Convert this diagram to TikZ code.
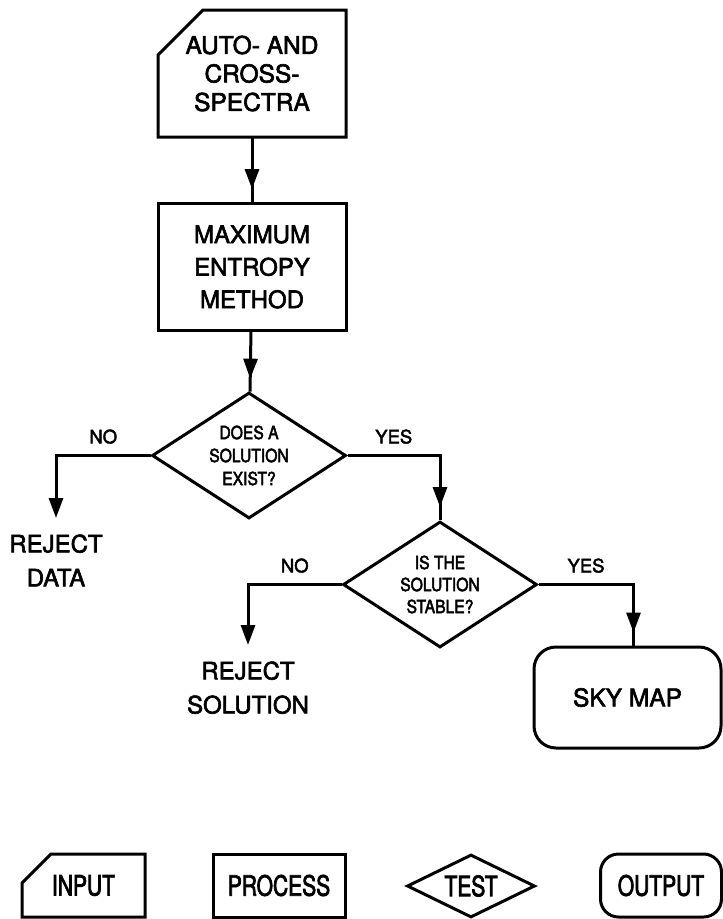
\documentclass[tikz,border=0pt]{standalone}
\usepackage{fontspec}
\setmainfont[FakeBold=2.5]{TeX Gyre Heros}
\newfontfamily\narrowfont[FakeStretch=0.87,FakeBold=2.5]{TeX Gyre Heros}
\newfontfamily\legendfont[FakeStretch=0.75,FakeBold=2.5]{TeX Gyre Heros}
\usepackage{tikz}
\usetikzlibrary{shapes,arrows,positioning,calc,decorations.markings,arrows.meta}

\newcommand{\cutframe}[2]{\draw (#1.north east) -- (#1.south east) -- (#1.south west) -- ([yshift=-#2]#1.north west) -- ([xshift=#2]#1.north west) -- cycle;}

\begin{document}
\begin{tikzpicture}[x=1pt, y=-1pt, line width=3pt,
        block/.style={draw, rectangle, minimum height=127pt, minimum width=188pt, align=center, font=\fontsize{24}{32.5}\selectfont},
        inblock/.style={rectangle, outer sep=0pt, minimum height=127pt, minimum width=188pt, align=center, font=\fontsize{24.5}{28.5}\selectfont},
        test/.style={draw, diamond, aspect=1.54, inner sep=0pt, minimum width=194pt, minimum height=126pt, align=center, font=\narrowfont\fontsize{18}{23}\selectfont},
        outblock/.style={draw, rectangle, rounded corners=22pt, minimum width=187pt, minimum height=101pt, align=center, font=\fontsize{24.5}{30}\selectfont},
        plain/.style={align=center, inner sep=15pt, font=\fontsize{24}{34}\selectfont},
        lbl/.style={font=\fontsize{18.5}{20}\selectfont, above=7pt},
        legend/.style={font=\legendfont\fontsize{28}{30}\selectfont, minimum height=63pt},
        >={Triangle[length=20pt, width=14pt]},
        mid/.style={decoration={markings, mark=at position -13pt with {\arrow{>}}}, postaction={decorate}}
    ]
        \useasboundingbox (0,0) rectangle (723,919);

        \node [inblock] (spectra) at (252,73.5) {AUTO- AND\\CROSS-\\SPECTRA};
        \cutframe{spectra}{45pt}
        \node [block, below=65pt of spectra] (mem) {MAXIMUM\\ENTROPY\\METHOD};
        \node [test, below=59pt of mem, xshift=-3pt] (exist) {DOES A\\SOLUTION\\EXIST?};
        \node [plain, anchor=north] (rejdata) at (56,518) {REJECT\\DATA};
        \node [test, font=\narrowfont\fontsize{18}{22}\selectfont] (stable) at (440,584.5) {IS THE\\SOLUTION\\STABLE?};
        \node [plain, anchor=north] (rejsol) at (248,645) {REJECT\\SOLUTION};
        \node [outblock] (skymap) at (627.5,697.5) {SKY MAP};

        \draw [mid] (spectra) -- (mem);
        \draw [mid] (mem) -- (exist);
        \draw [->] (exist.west) -| node[lbl, pos=0.25]{NO} (rejdata.north);
        \draw [mid] (exist.east) -| node[lbl, pos=0.25]{YES} (stable.north);
        \draw [->] (stable.west) -| node[lbl, pos=0.25]{NO} (rejsol.north);
        \draw [mid] (stable.east) -| node[lbl, pos=0.25]{YES} ([xshift=6pt]skymap.north);

        \node [inblock, legend, minimum width=123pt] (legin) at (83.5,885.5) {INPUT};
        \cutframe{legin}{29pt}
        \node [block, legend, minimum width=132pt] (legproc) at (279,885.5) {PROCESS};
        \node [test, legend, aspect=2, minimum width=128pt] (legtest) at (471,886) {TEST};
        \node [outblock, legend, minimum width=121pt, rounded corners=18pt] (legout) at (661,885.5) {OUTPUT};
    \end{tikzpicture}
\end{document}
